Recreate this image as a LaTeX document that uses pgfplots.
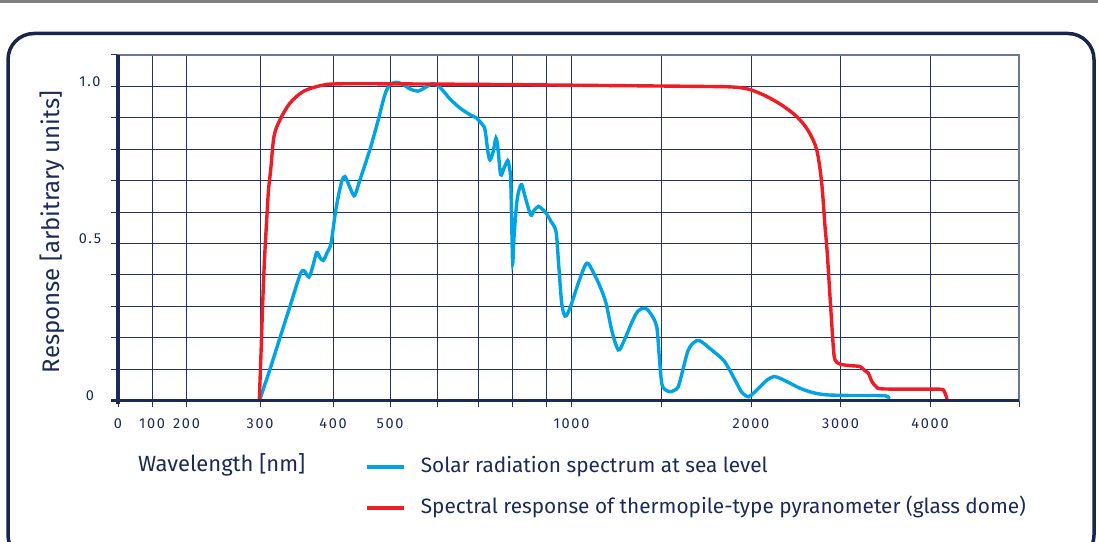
\documentclass[border=0pt]{standalone}
\usepackage{pgfplots}
\pgfplotsset{compat=1.18}
\usepackage{fontspec}
\setmainfont{Fira Sans}
\newfontfamily\tickfont{Fira Sans}[LetterSpace=12]
\definecolor{navy}{HTML}{1B2A57}
\definecolor{gridnavy}{HTML}{22336A}
\definecolor{framegrey}{HTML}{6A7896}
\definecolor{solarblue}{HTML}{00A3E4}
\definecolor{pyrared}{HTML}{EE1C25}
\begin{document}
\begin{tikzpicture}[x=1pt,y=1pt]
\useasboundingbox (0,0) rectangle (1098,541);
% page rule and rounded frame
\draw[gray, line width=2.5pt] (0,539.5) -- (1098,539.5);
\draw[color=navy!90!black, line width=3.5pt, rounded corners=26pt] (8,507.5) rectangle (1094,-20);
\begin{axis}[
    at={(118pt,140.5pt)}, anchor=south west,
    scale only axis, width=901pt, height=345.5pt,
    xmin=118, xmax=1019, ymin=0, ymax=1.1,
    axis line style={framegrey, line width=1.2pt},
    grid=major,
    major grid style={gridnavy, line width=1pt},
    tick style={gridnavy, line width=1pt},
    tick align=outside, major tick length=7pt,
    xtick pos=bottom, ytick pos=left,
    xtick={118,152,186.5,260,333,390,437,478,512,546.5,571.5,661.5,751,840.5,930,1019},
    xticklabels={0,100,200,300,400,500,,,,,1000,,2000,3000,4000,},
    ytick={0,0.1,0.2,0.3,0.4,0.5,0.6,0.7,0.8,0.9,1.0,1.1},
    yticklabels={0,,,,,0.5,,,,,1.0,},
    /pgf/number format/assume math mode=true,
    ticklabel style={font=\tickfont\fontsize{14.5}{16}\selectfont, text=navy},
    xticklabel style={anchor=base, yshift=-21.5pt},
    yticklabel style={anchor=base, xshift=-21pt, yshift=-0.5pt},
    xlabel={Wavelength [nm]},
    xlabel style={at={(axis description cs:0.0222,-0.206)}, anchor=base west, inner sep=0pt,
        font=\fontsize{22}{26}\selectfont, text=navy},
    ylabel={Response [arbitrary units]},
    ylabel style={at={(axis description cs:-0.0733,0.488)}, anchor=center,
        font=\fontsize{24}{28}\selectfont, text=navy},
    legend style={at={(axis description cs:0.2741,-0.163)}, anchor=north west,
        draw=none, fill=none, inner sep=0pt, row sep=21pt,
        font=\fontsize{20.8}{25}\selectfont, text=navy,
        nodes={inner sep=0pt, text height=15pt, text depth=5pt}},
    legend cell align=left,
    legend image code/.code={\draw[#1, line width=4pt] (0pt,0pt) -- (37pt,0pt); \path (52pt,0pt);},
    clip=false,
]
\addplot[solarblue, line width=3.4pt, smooth, tension=0.5] coordinates {
(260,0.005) (270,0.10) (280,0.20) (290,0.30) (300,0.400) (304,0.413) (309,0.393)
(313,0.43) (316.7,0.471) (320,0.455) (323.3,0.446) (327,0.47) (331,0.50) (335,0.59)
(338.3,0.65) (342,0.70) (345,0.713) (349,0.685) (354,0.652) (357,0.672) (360,0.703)
(370,0.80) (378.3,0.894) (385,0.975) (390,1.005) (396,1.013) (402,1.008) (410,0.992)
(418,0.985) (426,0.998) (433,1.009) (440,0.997) (450,0.96) (460,0.931) (470,0.91)
(476.7,0.899) (482,0.88) (485,0.862) (488,0.79) (490,0.766) (493,0.79) (496,0.836)
(498,0.80) (500.7,0.719) (504,0.74) (507.7,0.764) (509.5,0.74) (510.7,0.703)
(511.8,0.55) (512.7,0.437) (514,0.52) (516.7,0.628) (519,0.67) (521.7,0.687)
(525,0.65) (530.7,0.591) (534,0.605) (538.3,0.618) (542,0.61) (546,0.597) (551,0.57)
(556,0.538) (558.5,0.44) (561.7,0.31) (565,0.269) (568,0.28) (571.7,0.31) (579,0.38)
(586.7,0.437) (593,0.41) (600,0.363) (606,0.31) (612,0.22) (618.3,0.161) (624,0.19)
(632,0.25) (638,0.285) (645,0.294) (651,0.275) (656.7,0.235) (659,0.15) (661.7,0.055)
(665,0.035) (670,0.028) (674,0.032) (678.3,0.044) (683,0.1) (688.3,0.161) (694,0.185)
(700,0.19) (712,0.16) (723.3,0.129) (730,0.095) (736.7,0.055) (742,0.025)
(748.3,0.012) (754,0.025) (760,0.044) (767,0.065) (775,0.076) (787,0.06) (800,0.039)
(813,0.025) (826.7,0.018) (850,0.016) (885,0.015) (888.3,0.005)
};
\addlegendentry{Solar radiation spectrum at sea level}
\addplot[pyrared, line width=3.4pt, smooth, tension=0.5] coordinates {
(259.3,0.0) (261,0.15) (262.7,0.31) (264.5,0.45) (266.7,0.575) (268.5,0.67)
(270.7,0.735) (274,0.841) (280,0.894) (290,0.947) (303.3,0.984) (320,1.002)
(336.7,1.008) (400,1.008) (500,1.006) (600,1.003) (700,1.0) (733,0.998) (750,0.99)
(766.7,0.968) (782,0.94) (796.7,0.904) (808,0.86) (816.7,0.798) (821.7,0.692)
(825,0.554) (827,0.48) (830,0.331) (833.3,0.171) (835,0.129) (840,0.116) (850,0.111)
(860,0.108) (865,0.095) (868.3,0.087) (872,0.06) (876.7,0.042) (882,0.037) (910,0.036)
(940,0.036) (944,0.03) (946,0.015) (947.3,0.0)
};
\addlegendentry{Spectral response of thermopile-type pyranometer (glass dome)}
% heavy left and bottom axis lines
\draw[navy, line width=3.5pt] (axis cs:118,-0.011) -- (axis cs:118,1.1);
\draw[navy, line width=3.5pt] (axis cs:111,0) -- (axis cs:1019,0);
\end{axis}
\end{tikzpicture}
\end{document}
